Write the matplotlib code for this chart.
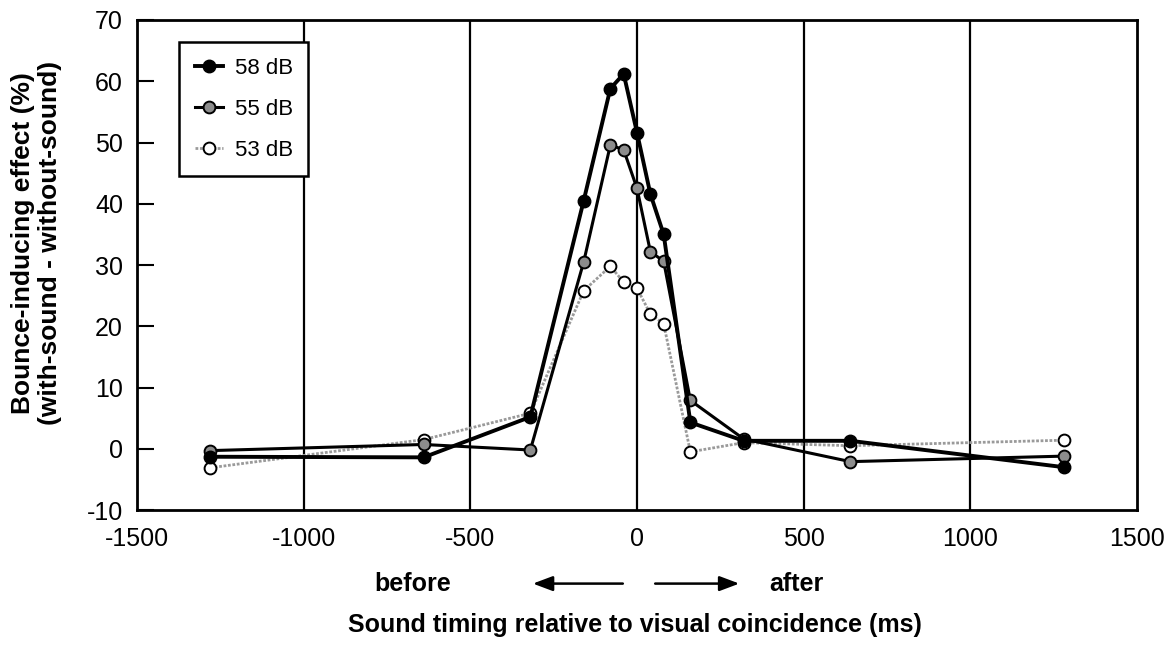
import matplotlib
matplotlib.use("Agg")
import matplotlib.pyplot as plt

plt.rcParams['font.family'] = ['Liberation Sans', 'DejaVu Sans']
plt.rcParams['axes.unicode_minus'] = False

# sound timing (ms) relative to visual coincidence
timing = [-1280, -640, -320, -160, -80, -40, 0, 40, 80, 160, 320, 640, 1280]

db58 = [-1.3, -1.4, 5.2, 40.5, 58.8, 61.2, 51.6, 41.6, 35.0, 4.3, 1.3, 1.3, -3.0]
db55 = [-0.3, 0.7, -0.2, 30.5, 49.6, 48.8, 42.5, 32.2, 30.6, 7.9, 1.6, -2.1, -1.2]
db53 = [-3.1, 1.5, 5.8, 25.8, 29.8, 27.2, 26.2, 22.0, 20.4, -0.5, 1.0, 0.5, 1.4]

x_ticks = [-1500, -1000, -500, 0, 500, 1000, 1500]
y_ticks = [-10, 0, 10, 20, 30, 40, 50, 60, 70]

fig = plt.figure(figsize=(11.65, 6.47), dpi=100)
ax = fig.add_axes([0.1176, 0.2117, 0.8584, 0.7574])

for xv in x_ticks[1:-1]:
    ax.axvline(xv, color='black', lw=1.6, zorder=1)

ax.plot(timing, db53, color='#9a9a9a', lw=2.0, ls=(0, (1, 0.6)),
        marker='o', ms=8.5, mfc='white', mec='black', mew=1.4, label='53 dB', zorder=3)
ax.plot(timing, db55, color='black', lw=2.2,
        marker='o', ms=8.5, mfc='#8c8c8c', mec='black', mew=1.4, label='55 dB', zorder=4)
ax.plot(timing, db58, color='black', lw=2.8,
        marker='o', ms=9, mfc='black', mec='black', label='58 dB', zorder=5)

ax.set_xlim(-1500, 1500)
ax.set_ylim(-10, 70)
ax.set_xticks(x_ticks)
ax.set_yticks(y_ticks)
ax.tick_params(axis='x', length=0, pad=12, labelsize=18)
ax.tick_params(axis='y', direction='in', length=12, width=1.5, pad=10, labelsize=18)
for s in ax.spines.values():
    s.set_linewidth(2)

ax.set_ylabel("Bounce-inducing effect (%)\n(with-sound - without-sound)",
              fontsize=19, fontweight='bold', labelpad=6, linespacing=1.15)
ax.yaxis.set_label_coords(-0.075, 0.545)

handles, labels = ax.get_legend_handles_labels()
leg = ax.legend(handles[::-1], labels[::-1], loc='upper left',
                bbox_to_anchor=(0.042, 0.955), fontsize=16, frameon=True,
                fancybox=False, edgecolor='black', framealpha=1, handlelength=1.3,
                labelspacing=0.9, borderpad=0.7, handletextpad=0.5, borderaxespad=0)
leg.get_frame().set_linewidth(1.8)

# before / after arrows below the axis
fig.text(0.354, 0.098, "before", fontsize=18, fontweight='bold', ha='center', va='center')
fig.text(0.684, 0.098, "after", fontsize=18, fontweight='bold', ha='center', va='center')
ax.annotate("", xy=(0.455, 0.098), xytext=(0.537, 0.098), xycoords='figure fraction',
            arrowprops=dict(arrowstyle='-|>,head_length=1.2,head_width=0.45',
                            color='black', lw=1.8))
ax.annotate("", xy=(0.637, 0.098), xytext=(0.56, 0.098), xycoords='figure fraction',
            arrowprops=dict(arrowstyle='-|>,head_length=1.2,head_width=0.45',
                            color='black', lw=1.8))
fig.text(0.545, 0.034, "Sound timing relative to visual coincidence (ms)",
         fontsize=18, fontweight='bold', ha='center', va='center')

fig.savefig("out.png", dpi=100)
